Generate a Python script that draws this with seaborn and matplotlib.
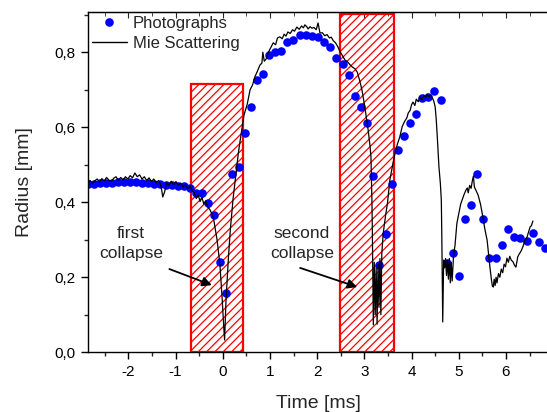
import matplotlib
matplotlib.use("Agg")
import matplotlib.pyplot as plt
import seaborn as sns
import pandas as pd
from matplotlib.ticker import MultipleLocator, FuncFormatter
from matplotlib.patches import Rectangle
from matplotlib.lines import Line2D

# ---------------- data ----------------
photo_t = [-2.86, -2.73, -2.60, -2.48, -2.35, -2.22, -2.10, -1.97, -1.84, -1.71, -1.59, -1.46,
           -1.33, -1.21, -1.08, -0.95, -0.82, -0.70, -0.57, -0.44, -0.31, -0.19, -0.06, 0.07,
           0.20, 0.35, 0.47, 0.60, 0.73, 0.85, 0.98, 1.11, 1.24, 1.36, 1.49, 1.64, 1.76, 1.89,
           2.02, 2.15, 2.27, 2.40, 2.55, 2.68, 2.80, 2.93, 3.06, 3.18, 3.31, 3.46, 3.59, 3.71,
           3.84, 3.97, 4.10, 4.22, 4.35, 4.48, 4.63, 4.75, 4.88, 5.01, 5.13, 5.26, 5.39, 5.51,
           5.64, 5.79, 5.92, 6.05, 6.17, 6.30, 6.45, 6.57, 6.70, 6.83]
photo_r = [0.449, 0.449, 0.451, 0.451, 0.452, 0.454, 0.454, 0.455, 0.454, 0.452, 0.451, 0.450,
           0.449, 0.447, 0.446, 0.444, 0.444, 0.437, 0.425, 0.425, 0.398, 0.366, 0.242, 0.158,
           0.475, 0.494, 0.585, 0.654, 0.726, 0.742, 0.793, 0.801, 0.803, 0.827, 0.833, 0.846,
           0.846, 0.843, 0.841, 0.827, 0.814, 0.785, 0.769, 0.739, 0.683, 0.654, 0.611, 0.470,
           0.233, 0.315, 0.449, 0.539, 0.577, 0.611, 0.635, 0.678, 0.681, 0.697, 0.673, 0.238,
           0.265, 0.203, 0.356, 0.393, 0.475, 0.356, 0.251, 0.251, 0.286, 0.329, 0.307, 0.305,
           0.297, 0.318, 0.294, 0.278]

mie_t = [-2.86, -2.81, -2.76, -2.71, -2.66, -2.61, -2.56, -2.51, -2.46, -2.41, -2.36, -2.31,
         -2.26, -2.21, -2.16, -2.11, -2.06, -2.01, -1.96, -1.91, -1.86, -1.81, -1.76, -1.71,
         -1.66, -1.61, -1.56, -1.51, -1.46, -1.41, -1.36, -1.31, -1.27, -1.23, -1.19, -1.14,
         -1.09, -1.04, -0.99, -0.94, -0.89, -0.84, -0.79, -0.74, -0.69, -0.64, -0.60, -0.56,
         -0.52, -0.48, -0.44, -0.40, -0.36, -0.32, -0.27, -0.20, -0.12, -0.06, -0.01, 0.02,
         0.04, 0.07, 0.12, 0.16, 0.22, 0.28, 0.33, 0.37, 0.45, 0.52, 0.58, 0.63, 0.68, 0.73,
         0.79, 0.83, 0.85, 0.88, 0.92, 0.96, 1.01, 1.07, 1.12, 1.16, 1.21, 1.26, 1.30, 1.34,
         1.38, 1.43, 1.48, 1.52, 1.57, 1.62, 1.67, 1.71, 1.74, 1.78, 1.81, 1.85, 1.89, 1.93,
         1.98, 2.02, 2.06, 2.11, 2.16, 2.21, 2.26, 2.30, 2.34, 2.39, 2.44, 2.49, 2.54, 2.59,
         2.64, 2.70, 2.75, 2.80, 2.85, 2.90, 2.95, 3.01, 3.05, 3.08, 3.12, 3.14, 3.16, 3.17,
         3.18, 3.19, 3.21, 3.23, 3.25, 3.27, 3.29, 3.31, 3.33, 3.35, 3.37, 3.40, 3.45, 3.49,
         3.54, 3.60, 3.65, 3.70, 3.75, 3.80, 3.85, 3.90, 3.93, 3.97, 4.00, 4.03, 4.07, 4.10,
         4.14, 4.18, 4.22, 4.26, 4.30, 4.33, 4.37, 4.40, 4.43, 4.47, 4.50, 4.52, 4.54, 4.56,
         4.58, 4.61, 4.63, 4.64, 4.65, 4.66, 4.68, 4.70, 4.72, 4.74, 4.76, 4.78, 4.80, 4.82,
         4.84, 4.86, 4.89, 4.92, 4.96, 5.00, 5.04, 5.07, 5.11, 5.15, 5.18, 5.20, 5.23, 5.26,
         5.29, 5.31, 5.33, 5.37, 5.41, 5.46, 5.51, 5.55, 5.60, 5.63, 5.66, 5.69, 5.71, 5.73,
         5.75, 5.77, 5.79, 5.81, 5.84, 5.87, 5.90, 5.93, 5.96, 5.99, 6.02, 6.05, 6.08, 6.11,
         6.15, 6.18, 6.21, 6.25, 6.28, 6.32, 6.36, 6.40, 6.44, 6.48, 6.51, 6.54, 6.57]
mie_r = [0.452, 0.458, 0.449, 0.457, 0.462, 0.454, 0.463, 0.457, 0.466, 0.459, 0.455, 0.464,
         0.468, 0.459, 0.466, 0.460, 0.468, 0.462, 0.471, 0.465, 0.478, 0.468, 0.473, 0.462,
         0.468, 0.458, 0.465, 0.455, 0.462, 0.452, 0.458, 0.446, 0.414, 0.428, 0.452, 0.446,
         0.456, 0.447, 0.455, 0.445, 0.451, 0.441, 0.447, 0.437, 0.442, 0.430, 0.425, 0.410,
         0.420, 0.402, 0.413, 0.395, 0.404, 0.388, 0.380, 0.361, 0.300, 0.235, 0.140, 0.070,
         0.033, 0.140, 0.250, 0.325, 0.410, 0.475, 0.530, 0.565, 0.632, 0.662, 0.700, 0.712,
         0.734, 0.748, 0.766, 0.771, 0.800, 0.776, 0.782, 0.798, 0.810, 0.825, 0.820, 0.838,
         0.841, 0.836, 0.848, 0.843, 0.854, 0.850, 0.860, 0.856, 0.867, 0.861, 0.870, 0.865,
         0.873, 0.868, 0.862, 0.868, 0.864, 0.866, 0.860, 0.878, 0.851, 0.852, 0.844, 0.847,
         0.838, 0.840, 0.831, 0.825, 0.814, 0.800, 0.790, 0.779, 0.775, 0.766, 0.760, 0.756,
         0.747, 0.725, 0.699, 0.654, 0.620, 0.593, 0.550, 0.521, 0.406, 0.318, 0.185, 0.073,
         0.240, 0.100, 0.225, 0.075, 0.235, 0.120, 0.250, 0.100, 0.265, 0.318, 0.365, 0.398,
         0.459, 0.500, 0.531, 0.555, 0.574, 0.601, 0.615, 0.625, 0.638, 0.645, 0.660, 0.667,
         0.658, 0.675, 0.668, 0.680, 0.674, 0.685, 0.680, 0.688, 0.681, 0.686, 0.681, 0.670,
         0.654, 0.625, 0.585, 0.540, 0.494, 0.450, 0.406, 0.318, 0.193, 0.081, 0.246, 0.225,
         0.250, 0.205, 0.245, 0.195, 0.250, 0.185, 0.240, 0.190, 0.260, 0.285, 0.344, 0.370,
         0.395, 0.406, 0.420, 0.432, 0.438, 0.425, 0.445, 0.437, 0.459, 0.470, 0.441, 0.430,
         0.419, 0.395, 0.361, 0.330, 0.299, 0.262, 0.227, 0.195, 0.178, 0.174, 0.195, 0.178,
         0.200, 0.185, 0.210, 0.200, 0.222, 0.212, 0.235, 0.228, 0.251, 0.240, 0.256, 0.246,
         0.241, 0.232, 0.227, 0.255, 0.262, 0.270, 0.282, 0.299, 0.305, 0.322, 0.334, 0.338,
         0.350]

# collapse windows (time start, time end, radius top)
box_t0 = [-0.67, 2.48]
box_t1 = [0.44, 3.62]
box_top = [0.715, 0.902]

labels = ["first\ncollapse", "second\ncollapse"]
label_t = [-1.94, 1.68]
label_r = [0.290, 0.290]
arrow_from = [(-1.13, 0.222), (1.64, 0.225)]
arrow_to = [(-0.23, 0.179), (2.85, 0.174)]

# ---------------- style ----------------
sns.set_style("ticks")
plt.rcParams["font.family"] = ["Liberation Sans", "DejaVu Sans"]
plt.rcParams["hatch.linewidth"] = 0.9

fig = plt.figure(figsize=(5.47, 4.12), dpi=100)
ax = fig.add_axes([0.1603, 0.1449, 0.845, 0.8267])

df_photo = pd.DataFrame({"t": photo_t, "r": photo_r})
df_mie = pd.DataFrame({"t": mie_t, "r": mie_r})

for a, b, top in zip(box_t0, box_t1, box_top):
    ax.add_patch(Rectangle((a, 0), b - a, top, facecolor="none", edgecolor="#ff0000",
                           hatch="////", linewidth=1.6, zorder=1))

sns.scatterplot(data=df_photo, x="t", y="r", color="#0000ff", s=38, linewidth=0,
                ax=ax, zorder=2, legend=False)
sns.lineplot(data=df_mie, x="t", y="r", sort=False, estimator=None, color="black",
             linewidth=0.9, ax=ax, zorder=3, legend=False)

for txt, tx, ty in zip(labels, label_t, label_r):
    ax.text(tx, ty, txt, ha="center", va="center", fontsize=12.5, linespacing=1.4)
for p0, p1 in zip(arrow_from, arrow_to):
    ax.annotate("", xy=p1, xytext=p0,
                arrowprops=dict(arrowstyle="-|>", color="black", lw=1.3,
                                mutation_scale=14, shrinkA=0, shrinkB=0))

ax.set_xlim(-2.86, 6.93)
ax.set_ylim(0, 0.908)
ax.xaxis.set_major_locator(MultipleLocator(1))
ax.xaxis.set_minor_locator(MultipleLocator(0.5))
ax.yaxis.set_major_locator(MultipleLocator(0.2))
ax.yaxis.set_minor_locator(MultipleLocator(0.1))
ax.xaxis.set_major_formatter(FuncFormatter(lambda v, p: f"{int(round(v))}"))
ax.yaxis.set_major_formatter(FuncFormatter(lambda v, p: f"{v:.1f}".replace(".", ",")))
ax.tick_params(which="major", direction="out", length=5, width=1, labelsize=11, colors="black")
ax.tick_params(axis="x", which="major", pad=4.5)
ax.tick_params(which="minor", direction="out", length=3, width=1)
for s in ["left", "bottom", "top", "right"]:
    ax.spines[s].set_linewidth(1)
    ax.spines[s].set_color("black")

sec = ax.secondary_xaxis("top")
sec.xaxis.set_major_locator(MultipleLocator(1))
sec.xaxis.set_minor_locator(MultipleLocator(0.5))
sec.tick_params(which="major", direction="in", length=4, labeltop=False)
sec.tick_params(which="minor", direction="in", length=3)

ax.set_xlabel("Time [ms]", fontsize=14, labelpad=11)
ax.set_ylabel("Radius [mm]", fontsize=14, labelpad=16)

handles = [Line2D([], [], marker="o", linestyle="none", color="#0000ff", markersize=6.2,
                  markeredgewidth=0),
           Line2D([], [], color="black", linewidth=1)]
ax.legend(handles, ["Photographs", "Mie Scattering"], loc="upper left",
          bbox_to_anchor=(0.0093, 0.988), frameon=False, borderaxespad=0, borderpad=0,
          fontsize=12, handlelength=2.1, handletextpad=0.36, labelspacing=0.32)

fig.savefig("out.png", dpi=100)
